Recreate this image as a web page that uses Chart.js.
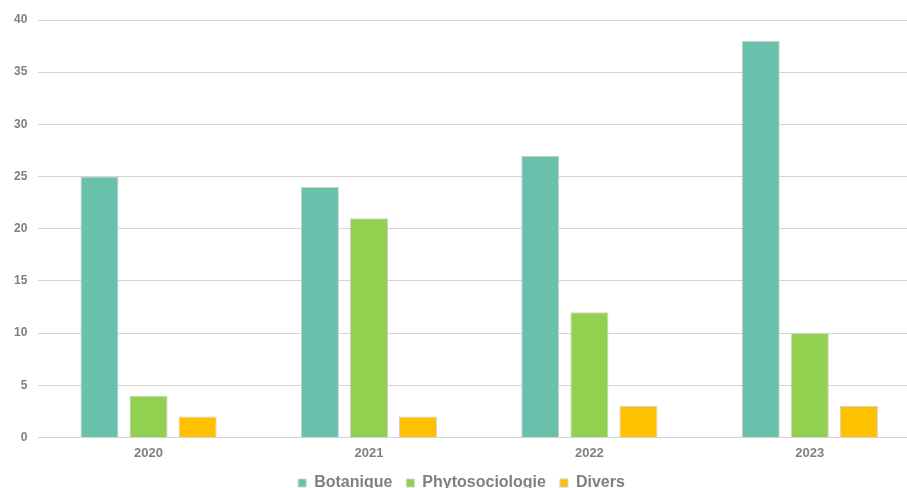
<!DOCTYPE html>
<html>
<head>
<meta charset="utf-8">
<script src="https://cdn.jsdelivr.net/npm/chart.js@4/dist/chart.umd.min.js"></script>
<style>
    html, body { margin: 0; padding: 0; overflow: hidden; background: #fff; }
    #wrap { width: 946px; height: 501px; }
</style>
</head>
<body>
<div id="wrap"><canvas id="myChart"></canvas></div>
<script>
const years = ['2020', '2021', '2022', '2023'];
const botanique = [25, 24, 27, 38];
const phytosociologie = [4, 21, 12, 10];
const divers = [2, 2, 3, 3];
const yTicks = [0, 5, 10, 15, 20, 25, 30, 35, 40];

const ctx = document.getElementById('myChart').getContext('2d');

function dataset(label, data, color) {
    return {
        label: label,
        data: data,
        backgroundColor: color,
        borderColor: '#d0d0d0',
        borderWidth: 1,
        barPercentage: 0.776,
        categoryPercentage: 0.668
    };
}

// chart runs a little wider and taller than the window, the right and bottom edges get cut off like in the original
const chart = new Chart(ctx, {
    type: 'bar',
    data: {
        labels: years,
        datasets: [
            dataset('Botanique', botanique, '#69c1ab'),
            dataset('Phytosociologie', phytosociologie, '#92d050'),
            dataset('Divers', divers, '#ffc000')
        ]
    },
    options: {
        responsive: true,
        maintainAspectRatio: false,
        animation: false,
        layout: {
            padding: { top: 20, left: 3, right: 26, bottom: 0 }
        },
        scales: {
            x: {
                grid: { display: false },
                border: { display: false },
                ticks: {
                    color: '#7f7f7f',
                    font: { family: 'Liberation Sans', size: 13, weight: 'bold' },
                    padding: 0
                }
            },
            y: {
                min: 0,
                max: 40,
                afterBuildTicks: (axis) => {
                    axis.ticks = yTicks.map(v => ({ value: v }));
                },
                grid: {
                    color: '#d4d4d4',
                    lineWidth: 1,
                    drawTicks: false
                },
                border: { display: false },
                ticks: {
                    color: '#7f7f7f',
                    font: { family: 'Liberation Sans', size: 12, weight: 'bold' },
                    padding: 11
                }
            }
        },
        plugins: {
            legend: {
                position: 'bottom',
                labels: {
                    color: '#7f7f7f',
                    font: { family: 'Liberation Sans', size: 16, weight: 'bold' },
                    boxWidth: 8,
                    boxHeight: 8,
                    padding: 14
                }
            },
            tooltip: { enabled: false }
        }
    }
});
</script>
</body>
</html>
